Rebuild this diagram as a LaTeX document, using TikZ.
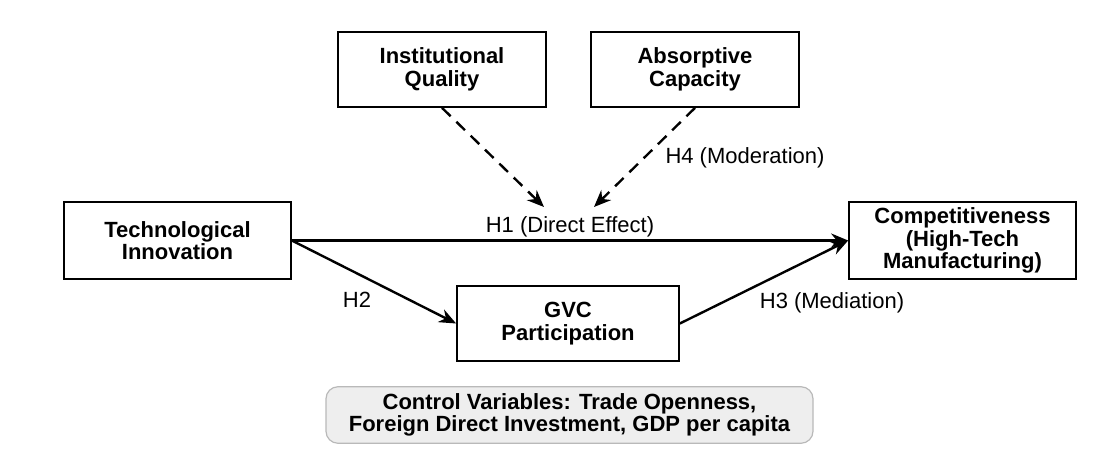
\documentclass[tikz,border=0pt]{standalone}
\usepackage{fontspec}
\setmainfont{Liberation Sans}
\usepackage{xcolor}
\usepackage{tikz}
\usetikzlibrary{arrows.meta, positioning}

\begin{document}
\begin{tikzpicture}[x=0.5pt, y=-0.5pt, >={Stealth[length=8.5pt, width=7pt]},
  font=\fontsize{11}{11.3}\selectfont,
  var/.style  = {rectangle, draw, line width=0.85pt, align=center,
                 font=\fontsize{11}{11.3}\selectfont\bfseries,
                 minimum width=104pt, minimum height=37.5pt, inner sep=2pt},
  ctrl/.style = {rectangle, rounded corners=6pt, draw=gray!55, fill=gray!13,
                 line width=0.6pt, align=center,
                 font=\fontsize{11}{11.3}\selectfont\bfseries,
                 minimum width=243.5pt, minimum height=27pt},
  path/.style = {->, line width=1.2pt},
  modpath/.style = {->, line width=1.2pt, dash pattern=on 6pt off 4pt},
  lbl/.style  = {inner sep=1pt}
]
\useasboundingbox (0,0) rectangle (1120,455);

%% --- Moderators ---
\node[var] (inst)   at (442,69.5) {Institutional\\Quality};
\node[var] (absorb) at (695,69.5) {Absorptive\\Capacity};

%% --- Main variables ---
\node[var, minimum width=113.5pt, minimum height=38.5pt] (tech) at (177.5,240.5) {Technological\\Innovation};
\node[var, minimum width=113.5pt, minimum height=38.5pt] (comp) at (962.5,240.5) {Competitiveness\\(High-Tech\\Manufacturing)};
\node[var, minimum width=111pt] (gvc) at (568,323.5) {GVC\\Participation};

%% --- Controls ---
\node[ctrl] (controls) at (569.5,415) {Control Variables: Trade Openness,\\Foreign Direct Investment, GDP per capita};

%% --- Hypothesised paths ---
\draw[path] (tech.east) -- node[lbl, above] {H1 (Direct Effect)} (comp.west);
\draw[path] (tech.east) -- (gvc.west);
\draw[path] (gvc.east) -- (comp.west);
\node[lbl] (h2) at (357,300) {H2};
\node[lbl] (h3) at (832,303) {H3 (Mediation)};

%% --- Moderation ---
\coordinate (modA) at (544,207);
\coordinate (modB) at (594,207);
\draw[modpath] (inst.south) -- (modA);
\draw[modpath] (absorb.south) -- (modB);
\node[lbl] (h4) at (745,158) {H4 (Moderation)};
\end{tikzpicture}
\end{document}
